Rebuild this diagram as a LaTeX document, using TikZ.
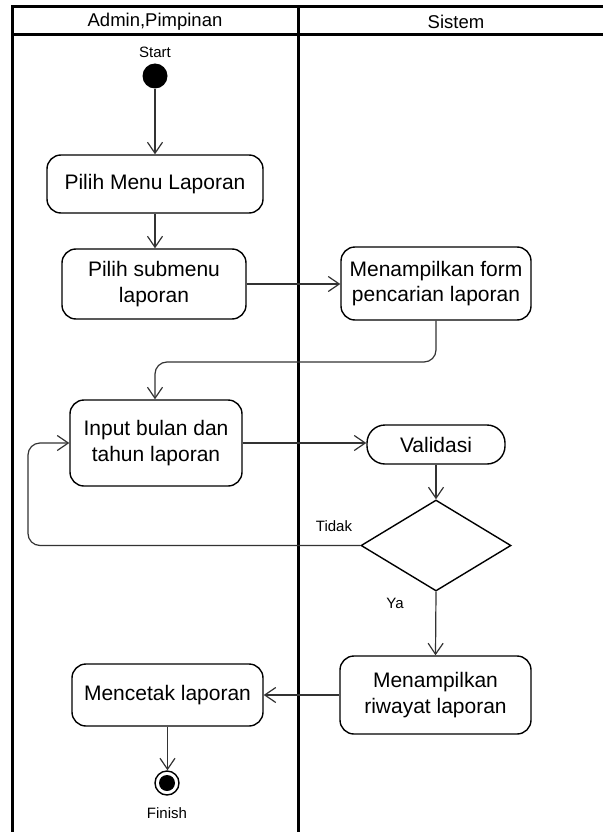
\documentclass[tikz,border=0pt]{standalone}
\usepackage{fontspec}
\setmainfont{Liberation Sans}
\usetikzlibrary{arrows.meta,shapes.geometric,calc}

\begin{document}
\begin{tikzpicture}[x=1pt,y=-1pt,
  lane/.style={line width=3pt,black},
  actbox/.style={draw=black,line width=1.4pt,rounded corners=14pt,align=center,
    inner sep=0pt,font=\fontsize{21}{25.5}\selectfont},
  flow/.style={draw=black!80,line width=1.2pt,
    -{Straight Barb[length=11pt,width=15pt,line width=1.2pt]}},
  small/.style={font=\fontsize{15}{17}\selectfont},
  header/.style={font=\fontsize{18.5}{20}\selectfont}
]
\useasboundingbox (0,0) rectangle (603,832);

% swimlane frame
\draw[lane] (12,832) -- (12,7) -- (603,7);
\draw[lane] (12,34.5) -- (603,34.5);
\draw[lane] (298,7) -- (298,832);
\node[header] (laneA) at (155,21.5) {Admin,Pimpinan};
\node[header] (laneB) at (456,21.5) {Sistem};

% start
\node[small] (startlbl) at (155,52) {Start};
\node[circle,fill=black,minimum size=25pt,inner sep=0pt] (start) at (155,76) {};

% activities
\node[actbox,minimum width=216pt,minimum height=58pt] (b1) at (155,184) {Pilih Menu Laporan};
\node[actbox,minimum width=184pt,minimum height=70pt] (b2) at (154,284) {Pilih submenu\\laporan};
\node[actbox,minimum width=190pt,minimum height=73pt] (b3) at (436,283.5) {Menampilkan form\\pencarian laporan};
\node[actbox,minimum width=172pt,minimum height=86pt] (b4) at (156,443) {Input bulan dan\\tahun laporan};
\node[actbox,rounded corners=18pt,minimum width=138pt,minimum height=39pt] (b5) at (436,444.5) {Validasi};
\node[diamond,draw=black,line width=1.4pt,minimum width=150pt,minimum height=91pt,
  inner sep=0pt,aspect=1.65] (dec) at (436,545.5) {};
\node[actbox,minimum width=191pt,minimum height=78pt] (b6) at (435.5,695) {Menampilkan\\riwayat laporan};
\node[actbox,minimum width=191pt,minimum height=62pt] (b7) at (167.5,695) {Mencetak laporan};

% finish
\node[circle,draw=black,line width=1.4pt,minimum size=24pt,inner sep=0pt] (fin) at (167,783) {};
\node[circle,fill=black,minimum size=16pt,inner sep=0pt] (finin) at (fin.center) {};
\node[small] (finlbl) at (167,813) {Finish};

% guard labels
\node[small] (tidak) at (334,526) {Tidak};
\node[small] (ya) at (395,603) {Ya};

% turning points of the routed connectors
\coordinate (turnA) at (0,362);
\coordinate (loopX) at (28,0);

% connectors
\draw[flow] (start) -- (start |- b1.north);
\draw[flow] (b1.south) -- (b1.south |- b2.north);
\draw[flow] (b2.east) -- (b2.east -| b3.west);
\draw[flow,rounded corners=12pt] (b3.south) -- (b3.south |- turnA) -- (155,0 |- turnA) -- (155,0 |- b4.north);
\draw[flow] (b4.east) -- (b4.east -| b5.west);
\draw[flow] (b5.south) -- (dec.north);
\draw[flow,rounded corners=12pt] (dec.west) -- (dec.west -| loopX) -- (loopX |- b4.west) -- (b4.west);
\draw[flow] (dec.south) -- (b6.north);
\draw[flow] (b6.west) -- (b6.west -| b7.east);
\draw[flow] (b7.south) -- (b7.south |- fin.north);
\end{tikzpicture}
\end{document}
